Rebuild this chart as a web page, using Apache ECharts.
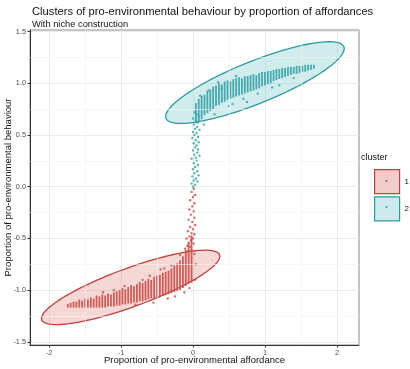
<!DOCTYPE html>
<html><head><meta charset="utf-8">
<script src="https://cdn.jsdelivr.net/npm/echarts@6/dist/echarts.min.js"></script>
<style>html,body{margin:0;padding:0;background:#fff}#c{width:410px;height:369px}</style>
</head><body><div id="c"></div>
<script>
// ---- tick labels ----
var xTicks = [-2, -1, 0, 1, 2];
var yTicks = [-1.5, -1.0, -0.5, 0.0, 0.5, 1.0, 1.5];
var xMinor = [-1.5, -0.5, 0.5, 1.5];
var yMinor = [-1.25, -0.75, -0.25, 0.25, 0.75, 1.25];
var clusters = ['1', '2'];

// ---- cluster 1 (columns of points: x, low, high) ----
var c1X = [-1.74,-1.70,-1.66,-1.62,-1.58,-1.54,-1.50,-1.46,-1.42,-1.38,-1.34,-1.30,-1.26,-1.22,-1.18,-1.14,-1.10,-1.06,-1.02,-0.98,-0.94,-0.90,-0.86,-0.82,-0.78,-0.74,-0.70,-0.66,-0.62,-0.58,-0.54,-0.50,-0.46,-0.42,-0.38,-0.34,-0.30,-0.26,-0.22,-0.18,-0.14,-0.10,-0.06,-0.02];
var c1Low = [-1.16,-1.16,-1.16,-1.16,-1.16,-1.16,-1.16,-1.16,-1.16,-1.16,-1.16,-1.16,-1.16,-1.16,-1.15,-1.15,-1.15,-1.14,-1.14,-1.13,-1.13,-1.12,-1.12,-1.11,-1.11,-1.10,-1.10,-1.09,-1.08,-1.07,-1.07,-1.06,-1.05,-1.04,-1.04,-1.03,-1.02,-1.01,-1.00,-0.99,-0.97,-0.95,-0.93,-0.92];
var c1High = [-1.14,-1.13,-1.12,-1.12,-1.10,-1.11,-1.09,-1.10,-1.08,-1.09,-1.06,-1.07,-1.05,-1.06,-1.04,-1.05,-1.03,-1.02,-1.01,-0.99,-1.00,-0.98,-0.96,-0.97,-0.95,-0.93,-0.94,-0.92,-0.90,-0.91,-0.88,-0.87,-0.86,-0.84,-0.83,-0.82,-0.80,-0.77,-0.75,-0.72,-0.68,-0.62,-0.55,-0.48];
// individual cluster 1 points (tail and outliers)
var c1PtsX = [0.01,-0.02,0.03,0.00,-0.04,0.02,-0.01,-0.05,0.01,-0.03,0.02,-0.06,-0.01,0.03,-0.04,0.00,-0.07,-0.02,0.02,-0.05,-0.09,0.00,-0.03,-0.06,0.01,-0.08,-0.04,-0.11,-0.02,-0.07,-1.10,-0.95,-0.70,-0.55,-0.45,-0.30,-0.25,-0.12,-0.80,-1.25,-0.60,-0.35,-0.05,0.03,0.04,0.02,-0.18,-0.40];
var c1PtsY = [-0.02,-0.05,-0.08,-0.10,-0.13,-0.16,-0.19,-0.22,-0.24,-0.27,-0.30,-0.32,-0.34,-0.37,-0.39,-0.41,-0.43,-0.45,-0.46,-0.48,-0.50,-0.50,-0.52,-0.54,-0.55,-0.57,-0.58,-0.60,-0.61,-0.62,-1.00,-0.96,-0.90,-1.12,-0.80,-0.76,-1.06,-1.02,-1.14,-1.02,-0.86,-1.08,-0.98,-0.90,-0.75,-0.65,-0.66,-0.79];

// ---- cluster 2 ----
var c2X = [0.04,0.08,0.12,0.16,0.20,0.24,0.28,0.32,0.36,0.40,0.44,0.48,0.52,0.56,0.60,0.64,0.68,0.72,0.76,0.80,0.84,0.88,0.92,0.96,1.00,1.04,1.08,1.12,1.16,1.20,1.24,1.28,1.32,1.36,1.40,1.44,1.48,1.52,1.56,1.60,1.64,1.68];
var c2Low = [0.62,0.64,0.66,0.70,0.72,0.74,0.76,0.79,0.80,0.82,0.83,0.85,0.86,0.87,0.88,0.89,0.90,0.91,0.92,0.93,0.94,0.95,0.96,0.98,0.99,1.00,1.01,1.03,1.04,1.05,1.06,1.07,1.08,1.09,1.10,1.10,1.11,1.12,1.12,1.13,1.14,1.15];
var c2High = [0.80,0.84,0.87,0.88,0.92,0.93,0.96,0.97,0.99,0.98,1.01,1.02,1.01,1.03,1.04,1.05,1.04,1.06,1.06,1.07,1.08,1.07,1.09,1.10,1.10,1.11,1.11,1.12,1.13,1.13,1.14,1.14,1.15,1.15,1.15,1.16,1.16,1.16,1.17,1.17,1.17,1.17];
var c2PtsX = [0.02,0.05,0.08,0.00,0.04,0.07,0.01,0.06,0.03,0.09,0.00,0.05,0.02,0.07,-0.01,0.04,0.08,0.01,0.05,0.03,0.07,0.00,0.06,0.02,0.09,0.04,-0.02,0.05,0.01,0.07,0.03,0.00,0.06,0.02,0.08,-0.01,0.04,0.01,0.06,-0.02,0.03,0.00,0.15,0.30,0.40,0.50,0.70,0.90,1.10,1.20,0.60,0.35,0.22,0.10,0.55,1.40,0.75];
var c2PtsY = [0.72,0.70,0.68,0.66,0.64,0.62,0.60,0.58,0.56,0.55,0.53,0.52,0.50,0.48,0.47,0.45,0.43,0.42,0.40,0.38,0.36,0.35,0.33,0.31,0.30,0.28,0.27,0.25,0.23,0.21,0.19,0.17,0.15,0.13,0.11,0.10,0.08,0.06,0.05,0.03,0.02,0.00,0.60,0.70,0.95,0.78,0.85,0.90,0.96,0.98,1.07,1.01,0.93,0.88,0.80,1.05,0.82];

// ---- 95% ellipses: centre, major half-axis vector, minor half-axis vector ----
var ellCenterX = [-0.866, 0.861];
var ellCenterY = [-0.973, 1.007];
var ellMajorX = [1.236, 1.236];
var ellMajorY = [0.314, 0.346];
var ellMinorX = [0.092, 0.110];
var ellMinorY = [-0.175, -0.190];

var pointColors = ['#c8504a', '#36a2a8'];
var edgeColors = ['#c0403c', '#2f9aa0'];
var fillColors = ['rgba(226,140,136,0.35)', 'rgba(120,200,204,0.35)'];

function colData(xs, lo, hi) { return xs.map(function (x, i) { return [x, lo[i], hi[i]]; }); }
function ptData(xs, ys) { return xs.map(function (x, i) { return [x, ys[i]]; }); }

function ellipseSeries(k) {
  return {
    name: clusters[k], type: 'custom', z: 2,
    itemStyle: { color: fillColors[k], borderColor: edgeColors[k], borderWidth: 1.3 },
    data: [[ellCenterX[k], ellCenterY[k]]],
    renderItem: function (params, api) {
      var pts = [];
      for (var i = 0; i < 120; i++) {
        var t = i / 120 * Math.PI * 2;
        var x = ellCenterX[k] + Math.cos(t) * ellMajorX[k] + Math.sin(t) * ellMinorX[k];
        var y = ellCenterY[k] + Math.cos(t) * ellMajorY[k] + Math.sin(t) * ellMinorY[k];
        pts.push(api.coord([x, y]));
      }
      return { type: 'polygon', shape: { points: pts },
        style: { fill: fillColors[k], stroke: edgeColors[k], lineWidth: 1.3 } };
    }
  };
}
function columnSeries(k, data) {
  return {
    name: clusters[k] + 'c', type: 'custom', z: 3, data: data,
    renderItem: function (params, api) {
      var top = api.coord([api.value(0), api.value(2)]);
      var bot = api.coord([api.value(0), api.value(1)]);
      return { type: 'rect', shape: { x: top[0] - 0.9, y: top[1] - 0.9, width: 1.8, height: bot[1] - top[1] + 1.8 },
        style: { fill: pointColors[k], opacity: 0.9 } };
    }
  };
}
function pointSeries(k, data) {
  return { name: clusters[k] + 'p', type: 'scatter', z: 3, symbolSize: 2.4, data: data,
    itemStyle: { color: pointColors[k] }, silent: true };
}

var chart = echarts.init(document.getElementById('c'), null, { renderer: 'canvas' });
chart.setOption({
  animation: false,
  textStyle: { fontFamily: 'Liberation Sans, Arial, sans-serif' },
  title: {
    text: 'Clusters of pro-environmental behaviour by proportion of affordances',
    subtext: 'With niche construction',
    left: 27, top: 1, itemGap: 3,
    textStyle: { fontSize: 11.2, fontWeight: 'normal', color: '#111' },
    subtextStyle: { fontSize: 9.3, color: '#111' }
  },
  grid: { left: 30, right: 51, top: 30, bottom: 24, containLabel: false, outerBoundsMode: 'none',
    show: true, borderColor: '#8a8a8a', borderWidth: 1, backgroundColor: '#fff' },
  xAxis: {
    type: 'value', min: -2.265, max: 2.307,
    name: 'Proportion of pro-environmental affordance', nameLocation: 'middle', nameGap: 10, nameMoveOverlap: false,
    nameTextStyle: { fontSize: 9.5, color: '#111' },
    axisLine: { show: true, onZero: false, lineStyle: { color: '#333', width: 1 } },
    axisTick: { show: true, length: 2.5, customValues: xTicks, lineStyle: { color: '#333' } },
    axisLabel: { customValues: xTicks, fontSize: 7.3, color: '#4d4d4d', margin: 4 },
    splitLine: { show: true, lineStyle: { color: '#e6e6e6', width: 0.8 } }
  },
  yAxis: {
    type: 'value', min: -1.53, max: 1.515,
    name: 'Proportion of pro-environmental behaviour', nameLocation: 'middle', nameGap: 16.5, nameMoveOverlap: false,
    nameTextStyle: { fontSize: 9.5, color: '#111' },
    axisLine: { show: true, onZero: false, lineStyle: { color: '#333', width: 1 } },
    axisTick: { show: true, length: 2.5, customValues: yTicks, lineStyle: { color: '#333' } },
    axisLabel: { customValues: yTicks, fontSize: 7.3, color: '#4d4d4d', margin: 4,
      formatter: function (v) { return v.toFixed(1); } },
    splitLine: { show: true, lineStyle: { color: '#e6e6e6', width: 0.8 } }
  },
  legend: {
    data: [
      { name: '1', itemStyle: { color: 'rgba(240,205,203,1)', borderColor: edgeColors[0], borderWidth: 1.2 } },
      { name: '2', itemStyle: { color: 'rgba(204,234,235,1)', borderColor: edgeColors[1], borderWidth: 1.2 } }
    ],
    orient: 'vertical', left: 374, top: 169, padding: 0, icon: 'rect', itemWidth: 25, itemHeight: 24, itemGap: 2,
    textStyle: { fontSize: 8, color: '#111' }, selectedMode: false
  },
  graphic: [
    { type: 'text', left: 361, top: 153, style: { text: 'cluster', fontSize: 9, fill: '#111', fontFamily: 'Liberation Sans, Arial, sans-serif' } },
    { type: 'circle', shape: { cx: 386.5, cy: 181, r: 1 }, style: { fill: pointColors[0] }, z: 100 },
    { type: 'circle', shape: { cx: 386.5, cy: 207, r: 1 }, style: { fill: pointColors[1] }, z: 100 }
  ],
  series: [
    { type: 'line', data: [], silent: true, z: 1,
      markLine: { silent: true, symbol: 'none', label: { show: false }, lineStyle: { color: '#f2f2f2', width: 0.6, type: 'solid' },
        data: xMinor.map(function (v) { return { xAxis: v }; }).concat(yMinor.map(function (v) { return { yAxis: v }; })) } },
    ellipseSeries(0), ellipseSeries(1),
    columnSeries(0, colData(c1X, c1Low, c1High)), columnSeries(1, colData(c2X, c2Low, c2High)),
    pointSeries(0, ptData(c1PtsX, c1PtsY)), pointSeries(1, ptData(c2PtsX, c2PtsY))
  ]
});
</script></body></html>
